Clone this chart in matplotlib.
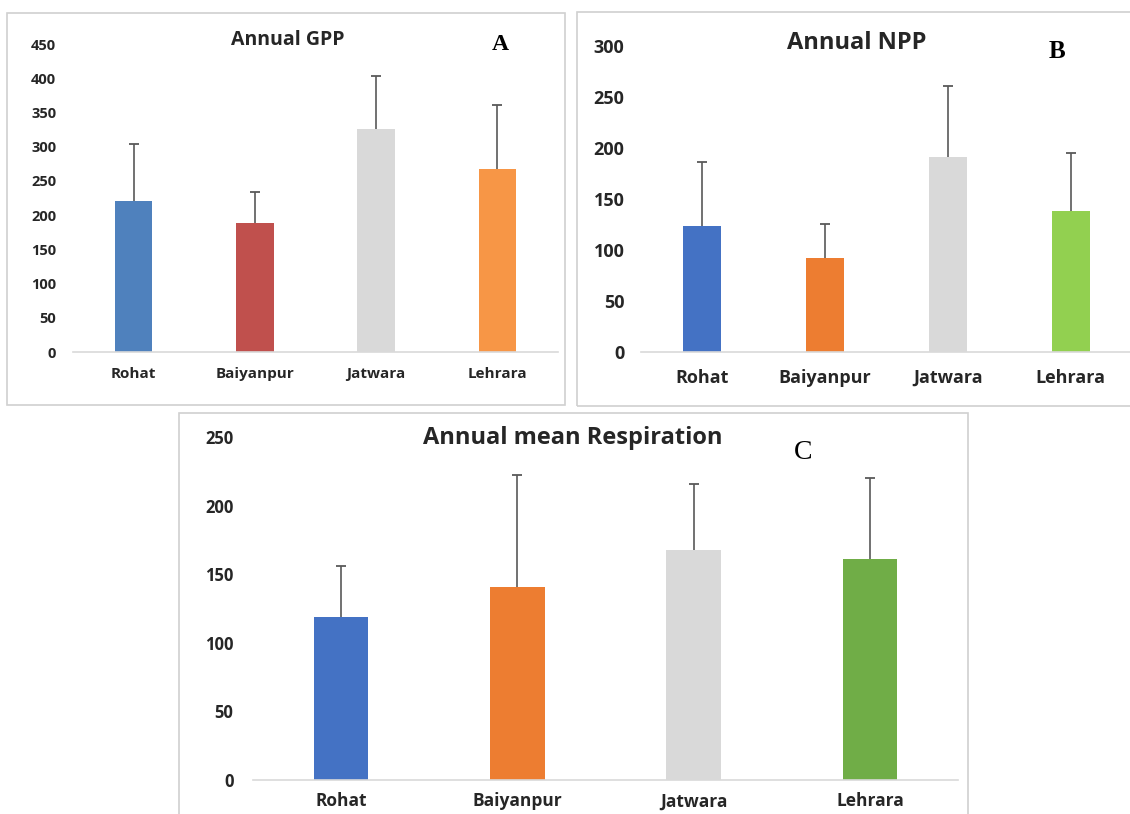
import numpy as np
import matplotlib.pyplot as plt
from matplotlib.patches import Rectangle

W, H = 1130, 814

sites = ['Rohat', 'Baiyanpur', 'Jatwara', 'Lehrara']

gpp = [220, 189, 326, 268]
gpp_err = [84, 45, 77, 93]

npp = [123.5, 92, 191, 138]
npp_err = [62.5, 33.5, 70, 57]

resp = [118.5, 141, 168, 161]
resp_err = [37.5, 81, 48, 59]

gpp_colors = ['#4F81BD', '#C0504D', '#D9D9D9', '#F79646']
npp_colors = ['#4472C4', '#ED7D31', '#D9D9D9', '#92D050']
resp_colors = ['#4472C4', '#ED7D31', '#D9D9D9', '#70AD47']

plt.rcParams['font.family'] = ['Open Sans', 'DejaVu Sans']

fig = plt.figure(figsize=(W / 100, H / 100), dpi=100)


def px_box(x0, y0, x1, y1):
    # pixel box (top-left origin) -> figure fraction [left, bottom, width, height]
    return [x0 / W, 1 - y1 / H, (x1 - x0) / W, (y1 - y0) / H]


def frame(x0, y0, x1, y1):
    fig.patches.append(Rectangle((x0 / W, 1 - y1 / H), (x1 - x0) / W, (y1 - y0) / H,
                                 transform=fig.transFigure, fill=False,
                                 edgecolor='#D0D0D0', linewidth=1.2, zorder=0))


def panel(box, vals, errs, colors, ymax, step, ysize, xsize, ypad, xpad):
    ax = fig.add_axes(box)
    x = np.arange(len(sites))
    vals = np.array(vals)
    tops = vals + np.array(errs)
    ax.bar(x, vals, width=0.31, color=colors, zorder=2)
    # upper error bars only, cap at the top
    ax.vlines(x, vals, tops, color='#595959', linewidth=1.2, zorder=3)
    ax.plot(x, tops, linestyle='none', marker='_', markersize=7,
            markeredgewidth=1.3, color='#595959', zorder=3)
    ax.set_xlim(-0.5, len(sites) - 0.5)
    ax.set_ylim(0, ymax)
    ax.set_yticks(np.arange(0, ymax + 1, step))
    ax.set_xticks(x)
    ax.set_xticklabels(sites)
    for s in ['top', 'right', 'left']:
        ax.spines[s].set_visible(False)
    ax.spines['bottom'].set_color('#D9D9D9')
    ax.spines['bottom'].set_linewidth(1.2)
    ax.tick_params(axis='y', length=0, pad=ypad, labelsize=ysize)
    ax.tick_params(axis='x', length=0, pad=xpad, labelsize=xsize)
    for lab in ax.get_xticklabels() + ax.get_yticklabels():
        lab.set_fontweight('bold')
        lab.set_color('#262626')
    ax.patch.set_alpha(0)
    return ax


# panel frames
frame(7, 13, 565, 405)
frame(577, 12, 1140, 406)
frame(179, 413, 968, 830)

panel(px_box(73, 44, 558, 352), gpp, gpp_err, gpp_colors, 450, 50, 10.5, 11, 12, 11)
panel(px_box(641, 46, 1132, 352), npp, npp_err, npp_colors, 300, 50, 13, 13, 12, 12)
panel(px_box(253, 437, 958, 780), resp, resp_err, resp_colors, 250, 50, 12, 12.5, 14, 9)

# titles
fig.text(288 / W, 1 - 40 / H, 'Annual GPP', ha='center', va='center',
         fontsize=14, fontweight='bold', color='#262626')
fig.text(857 / W, 1 - 43 / H, 'Annual NPP', ha='center', va='center',
         fontsize=17, fontweight='bold', color='#262626')
fig.text(573 / W, 1 - 438 / H, 'Annual mean Respiration', ha='center', va='center',
         fontsize=17, fontweight='bold', color='#262626')

# panel letters
fig.text(500 / W, 1 - 45 / H, 'A', ha='center', va='center', fontsize=17,
         fontweight='bold', family='Liberation Serif')
fig.text(1057 / W, 1 - 52 / H, 'B', ha='center', va='center', fontsize=18,
         fontweight='bold', family='Liberation Serif')
fig.text(803 / W, 1 - 452 / H, 'C', ha='center', va='center', fontsize=20,
         family='Liberation Serif')

fig.savefig('out.png', dpi=100)
